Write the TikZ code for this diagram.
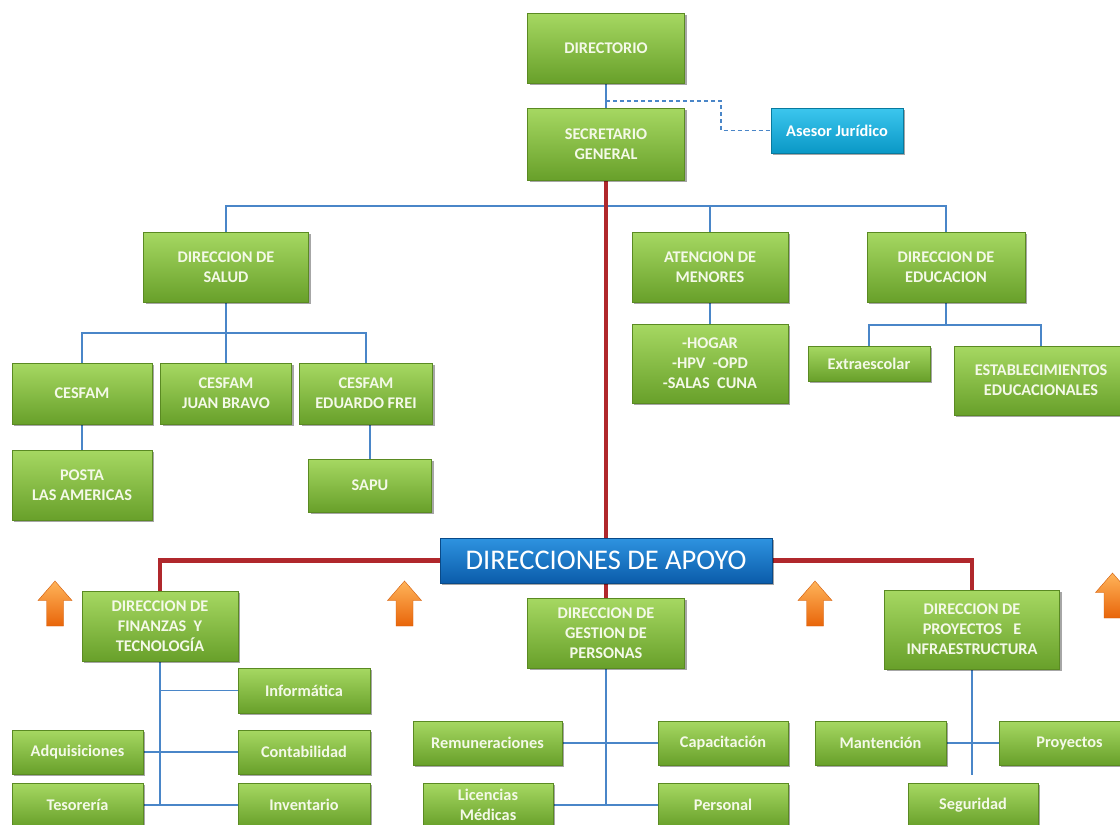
\documentclass[tikz,border=0pt]{standalone}
\usepackage{fontspec}
\setmainfont{Carlito}
\usetikzlibrary{shadows,calc,backgrounds}
\definecolor{gtop}{HTML}{A6D862}
\definecolor{gbot}{HTML}{68A02A}
\definecolor{gdraw}{HTML}{5A8A22}
\definecolor{btop}{HTML}{2E93E0}
\definecolor{bbot}{HTML}{0B5CAA}
\definecolor{ctop}{HTML}{3CC6EE}
\definecolor{cbot}{HTML}{0A98C6}
\definecolor{linkblue}{HTML}{4A86C8}
\definecolor{linkred}{HTML}{B0282C}
\definecolor{txt}{HTML}{F4F9E8}
\definecolor{otop}{HTML}{FFB45A}
\definecolor{obot}{HTML}{E8650A}
\tikzset{
  boxbase/.style={rectangle, inner sep=2pt, align=center, text=txt,
    drop shadow={shadow xshift=2pt, shadow yshift=-2pt, opacity=0.35, fill=black}},
  gbox/.style={boxbase, top color=gtop, bottom color=gbot, draw=gdraw, line width=0.6pt,
    font=\fontsize{16.3}{20}\selectfont\bfseries},
  cbox/.style={boxbase, top color=ctop, bottom color=cbot, draw=cbot!80!black, line width=0.6pt,
    font=\fontsize{16.3}{20}\selectfont\bfseries, text=white},
  abox/.style={boxbase, top color=btop, bottom color=bbot, draw=bbot!80!black, line width=0.6pt,
    font=\fontsize{28.5}{30}\selectfont, text=white},
  bl/.style={draw=linkblue, line width=1.6pt},
  rl/.style={draw=linkred, line width=4.5pt},
  dl/.style={draw=linkblue, line width=1.3pt, dash pattern=on 4pt off 3pt},
  uparrow/.pic={\shade[top color=otop, bottom color=obot, draw=obot!90!black, line width=0.4pt]
    (-8.5,22.5) -- (-8.5,-3) -- (-17,-3) -- (0,-22.5) -- (17,-3) -- (8.5,-3) -- (8.5,22.5) -- cycle;}
}
\begin{document}
\begin{tikzpicture}[x=1pt,y=-1pt]
\useasboundingbox (0,0) rectangle (1120,825);
\clip (0,0) rectangle (1120,825);
% top
\node[gbox, minimum width=157, minimum height=70] (dir) at (606,48) {DIRECTORIO};
\node[gbox, minimum width=157, minimum height=72] (sg) at (606,144) {SECRETARIO\\GENERAL};
\node[cbox, minimum width=132, minimum height=45] (ases) at (837,130.5) {Asesor Jurídico};
% level 2
\node[gbox, minimum width=165, minimum height=70] (salud) at (226,267) {DIRECCION DE\\SALUD};
\node[gbox, minimum width=156, minimum height=70] (men) at (710,267) {ATENCION DE\\MENORES};
\node[gbox, minimum width=158, minimum height=70] (edu) at (946,267) {DIRECCION DE\\EDUCACION};
% salud children
\node[gbox, minimum width=140, minimum height=61] (c1) at (82,393.5) {CESFAM};
\node[gbox, minimum width=131, minimum height=61] (juan) at (226,393.5) {CESFAM\\JUAN BRAVO};
\node[gbox, minimum width=133, minimum height=61] (frei) at (366,393.5) {CESFAM\\EDUARDO FREI};
\node[gbox, minimum width=140, minimum height=70] (posta) at (82,485) {POSTA\\LAS AMERICAS};
\node[gbox, minimum width=123, minimum height=53] (sapu) at (370,485.5) {SAPU};
% menores / educacion children
\node[gbox, minimum width=156, minimum height=79] (hogar) at (710,363.5) {-HOGAR\\-HPV\ \ -OPD\\-SALAS\ \ CUNA};
\node[gbox, minimum width=122, minimum height=35] (extra) at (869,363.5) {Extraescolar};
\node[gbox, minimum width=174, minimum height=69] (estab) at (1041,380.5) {ESTABLECIMIENTOS\\EDUCACIONALES};
% apoyo
\node[abox, minimum width=332, minimum height=45] (apoyo) at (606,560.5) {DIRECCIONES DE APOYO};
\node[gbox, minimum width=156, minimum height=70] (fin) at (160,626) {DIRECCION DE\\FINANZAS\ \ Y\\TECNOLOGÍA};
\node[gbox, minimum width=157, minimum height=70] (gest) at (606,633) {DIRECCION DE\\GESTION DE\\PERSONAS};
\node[gbox, minimum width=175, minimum height=79] (proy) at (972,629.5) {DIRECCION DE\\PROYECTOS\ \ \ E\\INFRAESTRUCTURA};
% finanzas children
\node[gbox, minimum width=132, minimum height=45] (inf) at (304,690.5) {Informática};
\node[gbox, minimum width=131, minimum height=44] (adq) at (77.5,752) {Adquisiciones};
\node[gbox, minimum width=132, minimum height=44] (cont) at (304,752) {Contabilidad};
\node[gbox, minimum width=131, minimum height=44] (teso) at (77.5,805) {Tesorería};
\node[gbox, minimum width=132, minimum height=44] (inv) at (304,805) {Inventario};
% gestion children
\node[gbox, minimum width=149, minimum height=44] (rem) at (487.5,743) {Remuneraciones};
\node[gbox, minimum width=130, minimum height=44] (cap) at (723,743) {Capacitación};
\node[gbox, minimum width=130, minimum height=44] (lic) at (488,805) {Licencias\\Médicas};
\node[gbox, minimum width=130, minimum height=44] (pers) at (723,805) {Personal};
% proyectos children
\node[gbox, minimum width=131, minimum height=44] (mant) at (880.5,743) {Mantención};
\node[gbox, minimum width=141, minimum height=44] (proj) at (1069.5,743) {Proyectos};
\node[gbox, minimum width=130, minimum height=44] (seg) at (973,805) {Seguridad};
% arrows
\pic at (55,603.5) {uparrow};
\pic at (404.5,603.5) {uparrow};
\pic at (815,603.5) {uparrow};
\pic at (1112.5,595.5) {uparrow};
% connectors
\begin{scope}[on background layer]
\fill[white] (0,0) rectangle (1120,825);
\draw[bl] (dir.south) -- (sg.north);
\coordinate (jd) at (606,101);
\coordinate (dk) at (721,101);
\draw[dl] (jd) -- (dk) |- (ases.west);
\draw[bl] (salud.north) -- ++(0,-26) -| (edu.north);
\draw[bl] (men.north) -- ++(0,-26);
\draw[rl] (sg.south) -- (apoyo.north);
\draw[bl] (salud.south) -- ++(0,31);
\draw[bl] (c1.north) -- ++(0,-30) -| (frei.north);
\draw[bl] (juan.north) -- ++(0,-30);
\draw[bl] (c1.south) -- (posta.north);
\draw[bl] (sapu.north) -- (sapu.north |- frei.south);
\draw[bl] (men.south) -- (hogar.north);
\draw[bl] (edu.south) -- ++(0,23);
\draw[bl] (extra.north) -- ++(0,-21) -| (estab.north);
\draw[rl] (apoyo.west) -| (fin.north);
\draw[rl] (apoyo.east) -| (proy.north);
\draw[rl] (apoyo.south) -- (gest.north);
\draw[bl] (fin.south) -- (fin.south |- teso.east);
\draw[bl] (inf.west) -- (inf.west -| fin.south);
\draw[bl] (adq.east) -- (cont.west);
\draw[bl] (teso.east) -- (inv.west);
\draw[bl] (gest.south) -- (gest.south |- lic.east);
\draw[bl] (rem.east) -- (cap.west);
\draw[bl] (lic.east) -- (pers.west);
\draw[bl] (proy.south) -- ++(0,106);
\draw[bl] (mant.east) -- (proj.west);
\end{scope}
\end{tikzpicture}
\end{document}
